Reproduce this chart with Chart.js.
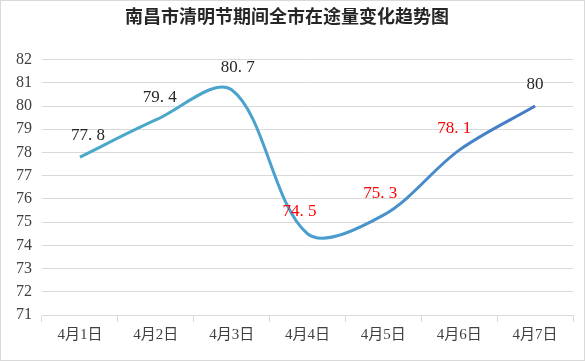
<!DOCTYPE html>
<html>
<head>
<meta charset="utf-8">
<script src="https://cdn.jsdelivr.net/npm/chart.js@4"></script>
<style>
  body { margin: 0; background: #fff; }
  #box { width: 583px; height: 359px; border: 1px solid #d9d9d9; }
</style>
</head>
<body>
<div id="box"><canvas id="myChart" width="583" height="359"></canvas></div>
<script>
'use strict';

let days = ['4月1日', '4月2日', '4月3日', '4月4日', '4月5日', '4月6日', '4月7日'];
let trafficValues = [77.8, 79.4, 80.7, 74.5, 75.3, 78.1, 80];
let labelColors = ['#262626', '#262626', '#262626', '#ff0000', '#ff0000', '#ff0000', '#262626'];
let yMin = 71;
let yMax = 82;

let serif = "'Liberation Serif', 'Noto Sans CJK SC', serif";

// draw the number above each point, like excel data labels
let valueLabels = {
    id: 'valueLabels',
    afterDatasetsDraw(chart, args, opts) {
        let ctx = chart.ctx;
        let meta = chart.getDatasetMeta(0);
        ctx.save();
        ctx.font = '17px ' + serif;
        ctx.textAlign = 'center';
        ctx.textBaseline = 'middle';
        meta.data.forEach(function (pt, i) {
            let dx = opts.dx[i] || 0;
            ctx.fillStyle = labelColors[i];
            ctx.fillText(String(trafficValues[i]).replace('.', '. '), pt.x + dx, pt.y - 22);
        });
        ctx.restore();
    }
};

let ctx = document.getElementById('myChart').getContext('2d');

let chart = new Chart(ctx, {
    type: 'line',
    data: {
        labels: days,
        datasets: [{
            label: '在途量',
            data: trafficValues,
            borderWidth: 3,
            tension: 0.33,
            pointRadius: 0,
            borderColor: function (c) {
                let area = c.chart.chartArea;
                if (!area) {
                    return '#4bacc6';
                }
                let g = c.chart.ctx.createLinearGradient(area.left, 0, area.right, 0);
                g.addColorStop(0, '#4bacc6');
                g.addColorStop(0.5, '#4a9fcf');
                g.addColorStop(1, '#4472c4');
                return g;
            }
        }]
    },
    options: {
        responsive: false,
        animation: false,
        layout: { padding: { left: 0, right: 11, top: 0, bottom: 0 } },
        plugins: {
            legend: { display: false },
            tooltip: { enabled: false },
            title: {
                display: true,
                text: '南昌市清明节期间全市在途量变化趋势图',
                color: '#262626',
                font: { family: serif, size: 18, weight: 'bold' },
                padding: { top: 7, bottom: 30 }
            },
            valueLabels: { dx: [8, 4, 6, -8, -3, -5, 0] }
        },
        scales: {
            x: {
                offset: true,
                grid: {
                    offset: true,
                    drawOnChartArea: false,
                    tickLength: 7,
                    color: '#d9d9d9'
                },
                border: { color: '#d9d9d9' },
                ticks: {
                    color: '#404040',
                    font: { family: serif, size: 15 },
                    padding: 4
                },
                afterFit: function (s) { s.height = 45; }
            },
            y: {
                min: yMin,
                max: yMax,
                grid: { color: '#d9d9d9', drawTicks: false },
                border: { display: false },
                ticks: {
                    stepSize: 1,
                    color: '#404040',
                    font: { family: serif, size: 16 },
                    padding: 10
                },
                afterFit: function (s) { s.width = 41; }
            }
        }
    },
    plugins: [valueLabels]
});
</script>
</body>
</html>
